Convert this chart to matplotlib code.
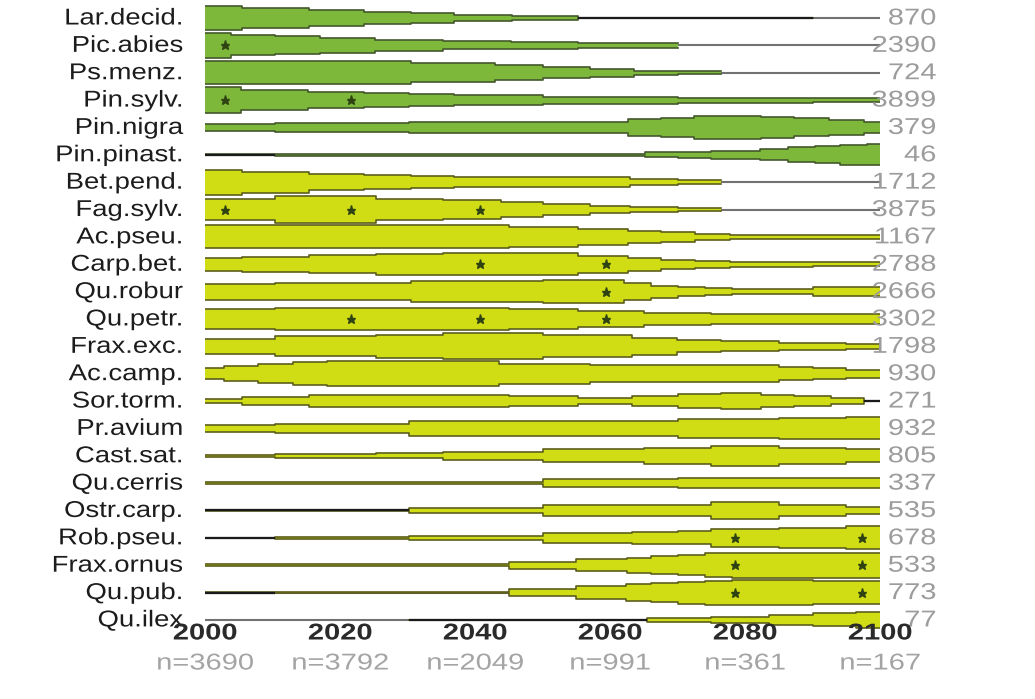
import matplotlib
matplotlib.use("Agg")
import matplotlib.pyplot as plt
import numpy as np
from matplotlib.patheffects import AbstractPathEffect
from matplotlib.transforms import Affine2D

# ---- data -------------------------------------------------------------
species = ["Lar.decid.", "Pic.abies", "Ps.menz.", "Pin.sylv.", "Pin.nigra",
           "Pin.pinast.", "Bet.pend.", "Fag.sylv.", "Ac.pseu.", "Carp.bet.",
           "Qu.robur", "Qu.petr.", "Frax.exc.", "Ac.camp.", "Sor.torm.",
           "Pr.avium", "Cast.sat.", "Qu.cerris", "Ostr.carp.", "Rob.pseu.",
           "Frax.ornus", "Qu.pub.", "Qu.ilex"]
totals = [870, 2390, 724, 3899, 379, 46, 1712, 3875, 1167, 2788, 2666, 3302,
          1798, 930, 271, 932, 805, 337, 535, 678, 533, 773, 77]
conifers = ["Lar.decid.", "Pic.abies", "Ps.menz.", "Pin.sylv.", "Pin.nigra",
            "Pin.pinast."]

tick_years = [2000, 2020, 2040, 2060, 2080, 2100]
sample_sizes = [3690, 3792, 2049, 991, 361, 167]

# change points of each band (years) and the half-width held after each one
breaks = [
    [2000, 2005.5, 2015.4, 2023.5, 2030.5, 2036.9, 2045.5, 2055.3, 2090.1, 2100],
    [2000, 2003.8, 2010.4, 2017, 2025.2, 2035.3, 2045.4, 2055.3, 2070, 2100],
    [2000, 2030.5, 2043, 2050, 2057, 2063.5, 2070, 2076.5, 2100],
    [2000, 2005.4, 2015.3, 2023.5, 2030.2, 2036.9, 2050, 2070, 2090, 2100],
    [2000, 2010.4, 2030.2, 2062.7, 2067.6, 2072.5, 2077.4, 2082.4, 2087.3, 2092.5, 2097.6, 2100],
    [2000, 2010.4, 2065.2, 2070.1, 2075, 2082.2, 2086.4, 2090.3, 2094.1, 2098, 2100],
    [2000, 2005.5, 2015.4, 2023.5, 2030.5, 2036.9, 2063, 2070, 2076.5, 2100],
    [2000, 2010.4, 2025.3, 2035.3, 2043.8, 2050, 2057, 2063, 2070, 2076.5, 2100],
    [2000, 2045.1, 2055.3, 2062.7, 2067.6, 2072.6, 2077.8, 2090, 2100],
    [2000, 2005.5, 2015.4, 2025.3, 2035.2, 2055.3, 2062.7, 2067.6, 2072.6, 2077.8, 2090, 2100],
    [2000, 2010.4, 2030.5, 2050, 2062, 2066, 2070, 2074, 2078, 2090, 2100],
    [2000, 2010.4, 2030.5, 2045.1, 2055.3, 2065, 2075, 2100],
    [2000, 2010.4, 2025.3, 2035.2, 2050.1, 2063.3, 2069.9, 2076.5, 2085.1, 2095, 2100],
    [2000, 2002.8, 2007.8, 2013.1, 2018, 2030.5, 2043.5, 2057, 2085, 2090, 2095, 2100],
    [2000, 2005.5, 2015.4, 2045.1, 2055.3, 2063.2, 2070, 2076.5, 2082.4, 2087.3, 2092.7, 2097.6, 2100],
    [2000, 2010.4, 2030.2, 2070, 2085, 2095, 2100],
    [2000, 2010.4, 2025.3, 2035.3, 2050, 2065, 2075, 2085, 2095, 2100],
    [2000, 2050, 2070, 2100],
    [2000, 2030.2, 2050, 2065, 2075, 2085, 2095, 2100],
    [2000, 2010.4, 2030.2, 2050, 2063.2, 2070, 2075, 2085, 2095, 2100],
    [2000, 2045.1, 2055, 2062.5, 2066, 2070, 2074, 2078, 2100],
    [2000, 2010.4, 2045.1, 2055, 2062.3, 2066, 2070, 2074, 2078, 2090, 2100],
    [2000, 2030.2, 2065.5, 2075, 2083.5, 2090, 2096.5, 2100],
]
half_widths = [
    [0.43, 0.37, 0.28, 0.23, 0.18, 0.12, 0.09, 0.015, 0],
    [0.46, 0.37, 0.33, 0.27, 0.21, 0.15, 0.12, 0.085, 0],
    [0.42, 0.35, 0.27, 0.20, 0.15, 0.08, 0.05, 0],
    [0.46, 0.38, 0.30, 0.26, 0.21, 0.17, 0.13, 0.09, 0.06],
    [0.13, 0.15, 0.21, 0.30, 0.36, 0.41, 0.43, 0.39, 0.33, 0.26, 0.21],
    [0.012, 0.03, 0.09, 0.12, 0.15, 0.195, 0.28, 0.31, 0.36, 0.38],
    [0.46, 0.38, 0.30, 0.26, 0.21, 0.18, 0.11, 0.08, 0],
    [0.40, 0.48, 0.39, 0.33, 0.27, 0.19, 0.14, 0.10, 0.065, 0],
    [0.42, 0.37, 0.29, 0.23, 0.17, 0.12, 0.08, 0.07],
    [0.23, 0.27, 0.32, 0.39, 0.41, 0.31, 0.23, 0.16, 0.12, 0.085, 0.07],
    [0.29, 0.32, 0.37, 0.42, 0.30, 0.22, 0.155, 0.115, 0.095, 0.15],
    [0.36, 0.39, 0.41, 0.38, 0.29, 0.22, 0.17],
    [0.27, 0.36, 0.41, 0.47, 0.40, 0.31, 0.225, 0.18, 0.13, 0.10],
    [0.20, 0.28, 0.35, 0.41, 0.46, 0.46, 0.36, 0.31, 0.24, 0.19, 0.15],
    [0.085, 0.15, 0.21, 0.18, 0.095, 0.19, 0.24, 0.28, 0.23, 0.18, 0.10, 0.012],
    [0.12, 0.17, 0.27, 0.34, 0.37, 0.40],
    [0.03, 0.08, 0.10, 0.14, 0.24, 0.30, 0.36, 0.30, 0.23],
    [0.03, 0.14, 0.19],
    [0.012, 0.09, 0.19, 0.21, 0.30, 0.21, 0.14],
    [0.012, 0.035, 0.07, 0.18, 0.22, 0.24, 0.33, 0.36, 0.42],
    [0.03, 0.13, 0.21, 0.27, 0.33, 0.37, 0.43, 0.46],
    [0.02, 0.03, 0.14, 0.23, 0.30, 0.35, 0.40, 0.44, 0.46, 0.41],
    [0, 0.012, 0.06, 0.12, 0.18, 0.24, 0.30],
]

# significant shifts marked with a star
star_species = ["Pic.abies", "Pin.sylv.", "Pin.sylv.",
                "Fag.sylv.", "Fag.sylv.", "Fag.sylv.",
                "Carp.bet.", "Carp.bet.", "Qu.robur",
                "Qu.petr.", "Qu.petr.", "Qu.petr.",
                "Rob.pseu.", "Rob.pseu.", "Frax.ornus", "Frax.ornus",
                "Qu.pub.", "Qu.pub."]
star_years = [2003, 2003, 2021.7,
              2003, 2021.7, 2040.8,
              2040.8, 2059.4, 2059.4,
              2021.7, 2040.8, 2059.4,
              2078.5, 2097.3, 2078.5, 2097.3,
              2078.5, 2097.3]


class HStretch(AbstractPathEffect):
    """Widen glyphs horizontally while keeping the text's alignment point."""

    def __init__(self, sx, align="left"):
        super().__init__()
        self._sx = sx
        self._align = align

    def draw_path(self, renderer, gc, tpath, affine, rgbFace=None):
        x0 = affine.transform((0.0, 0.0))[0]
        width = tpath.get_extents(affine).x1 - x0
        extra = (self._sx - 1.0) * width
        shift = {"left": 0.0, "center": -extra / 2.0, "right": -extra}[self._align]
        stretch = Affine2D().translate(-x0, 0).scale(self._sx, 1.0).translate(x0 + shift, 0)
        renderer.draw_path(gc, tpath, affine + stretch, rgbFace)


# ---- styling ----------------------------------------------------------
plt.rcParams["font.family"] = ["Liberation Sans", "DejaVu Sans"]
GREEN, GREEN_EDGE = "#7db83a", "#44582c"
YELLOW, YELLOW_EDGE = "#d0dc14", "#5c5e1c"
BASE = "#727272"
TRACE = "#1a1a1a"      # near-empty stretches show as a dark trace
FS = 16.5
SX_NAMES = 1.2
SX_NUMS = 1.27

W, H = 1035, 699
fig = plt.figure(figsize=(W / 100, H / 100), dpi=100)
fig.patch.set_facecolor("white")

# pixel geometry of the plotting area
x0_px, x1_px = 205, 880
row0_px, row_step = 18, 27.36
ymin, ymax = -0.6, 22.6
top_px = row0_px + ymin * row_step
bot_px = row0_px + ymax * row_step
ax = fig.add_axes([x0_px / W, 1 - bot_px / H, (x1_px - x0_px) / W,
                   (bot_px - top_px) / H])
ax.set_xlim(2000, 2100)
ax.set_ylim(ymax, ymin)
ax.axis("off")

px_per_year = (x1_px - x0_px) / 100.0


def year_at(px):
    return 2000 + (px - x0_px) / px_per_year


def row_at(py):
    return (py - row0_px) / row_step


for i, name in enumerate(species):
    b = np.asarray(breaks[i], dtype=float)
    w = np.asarray(half_widths[i], dtype=float)
    fill, edge = (GREEN, GREEN_EDGE) if name in conifers else (YELLOW, YELLOW_EDGE)

    ax.plot([2000, 2100], [i, i], color=BASE, lw=1.5,
            solid_capstyle="butt", zorder=1)

    nz = np.nonzero(w > 0)[0]
    first, last = nz[0], nz[-1]
    xs = b[first:last + 2]
    ws = np.append(w[first:last + 1], w[last])
    ax.fill_between(xs, i - ws, i + ws, step="post", color=fill,
                    lw=0, zorder=2)
    ax.step(xs, i - ws, where="post", color=edge, lw=1.2, zorder=3)
    ax.step(xs, i + ws, where="post", color=edge, lw=1.2, zorder=3)

    # hairline stretches of the band
    for k in range(len(w)):
        if 0 < w[k] <= 0.02:
            ax.plot([b[k], b[k + 1]], [i, i], color=TRACE, lw=1.6,
                    solid_capstyle="butt", zorder=3.5)

    ax.text(year_at(183), i, name, ha="right", va="center", fontsize=FS,
            color="#1c1c1c", clip_on=False,
            path_effects=[HStretch(SX_NAMES, "right")])
    ax.text(year_at(936), i, str(totals[i]), ha="right", va="center",
            fontsize=FS, color="#9c9c9c", clip_on=False,
            path_effects=[HStretch(SX_NUMS, "right")])

for name, yr in zip(star_species, star_years):
    ax.plot(yr, species.index(name), marker="*", ms=6.5, color="#2f4312",
            mec="#2f4312", zorder=4)

for yr, n in zip(tick_years, sample_sizes):
    ax.text(yr, row_at(633), str(yr), ha="center", va="center",
            fontsize=FS, fontweight="bold", color="#2a2a2a", clip_on=False,
            path_effects=[HStretch(SX_NUMS, "center")])
    ax.text(yr, row_at(663), f"n={n}", ha="center", va="center",
            fontsize=FS, color="#a4a4a4", clip_on=False,
            path_effects=[HStretch(SX_NUMS, "center")])

fig.savefig("out.png", dpi=100, facecolor="white")
